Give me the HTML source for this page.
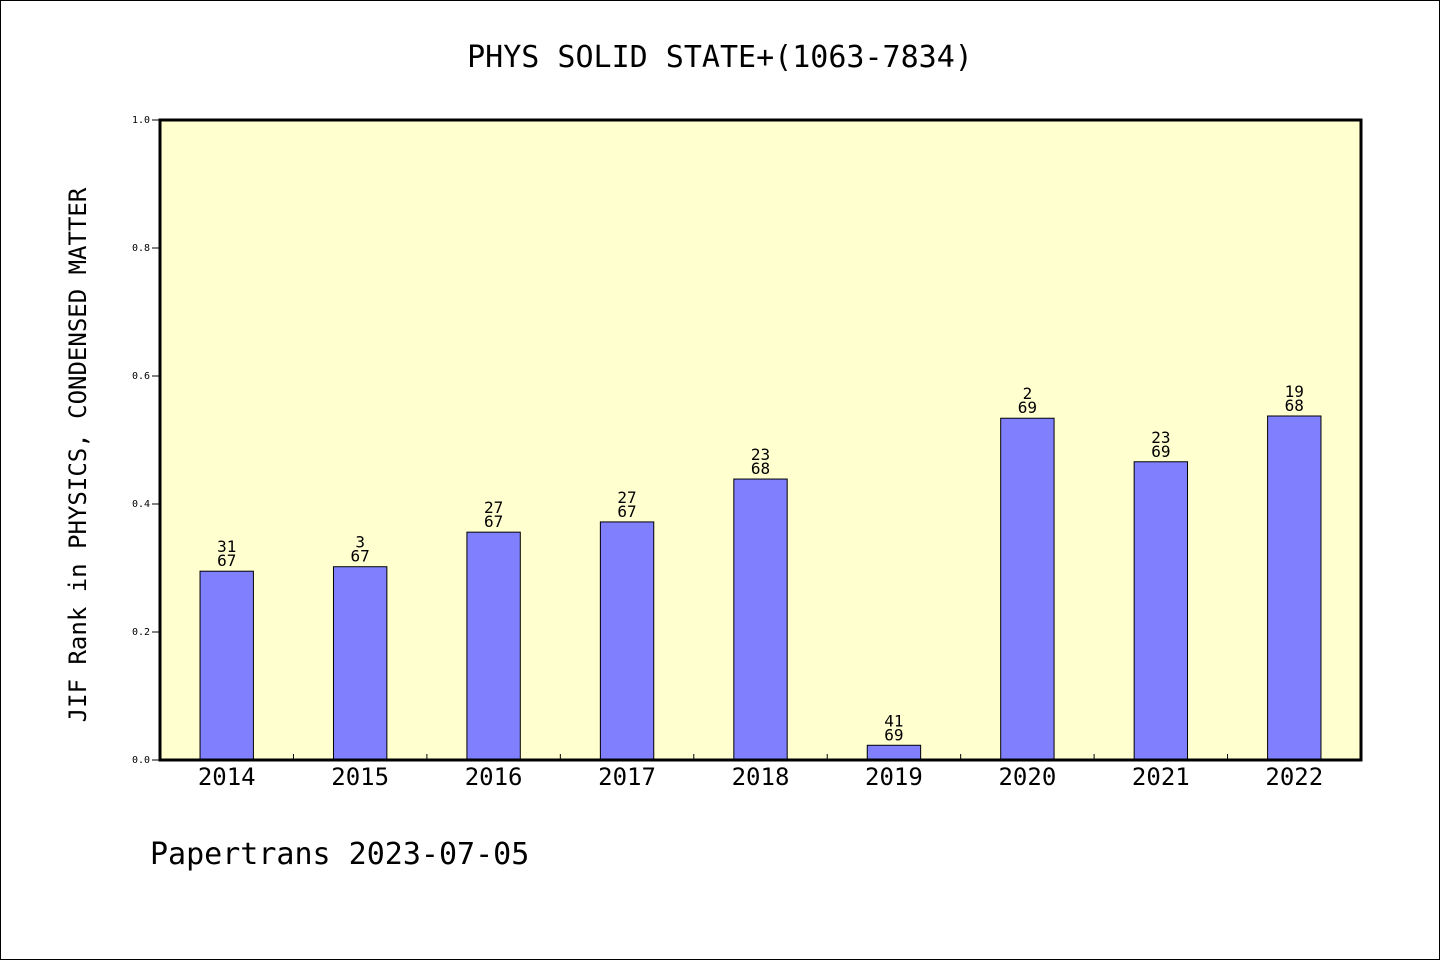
<!DOCTYPE html>
<html><head><meta charset="utf-8"><style>
body{margin:0;background:#fff}
svg{display:block;font-family:"DejaVu Sans Mono","Liberation Mono",monospace}
</style></head><body>
<svg id="c" width="1440" height="960" viewBox="0 0 1440 960">
<rect x="0.5" y="0.5" width="1439" height="959" fill="#fff" stroke="#000"/>
<text x="720" y="67" text-anchor="middle" font-size="30">PHYS SOLID STATE+(1063-7834)</text>
<rect x="160" y="120" width="1201" height="640" fill="#ffffd0"/>
<g id="bars"></g>
<rect x="160" y="120" width="1201" height="640" fill="none" stroke="#000" stroke-width="3"/>
<text transform="translate(86,455) rotate(-90)" text-anchor="middle" font-size="24">JIF Rank in PHYSICS, CONDENSED MATTER</text>
<text x="150" y="864" font-size="30">Papertrans 2023-07-05</text>
</svg>
<script>
const categories=["2014","2015","2016","2017","2018","2019","2020","2021","2022"];
const values=[0.295,0.302,0.356,0.372,0.439,0.023,0.534,0.466,0.5375];
const ranks=["31","3","27","27","23","41","2","23","19"];
const totals=["67","67","67","67","68","69","69","69","68"];
const yTicks=["0.0","0.2","0.4","0.6","0.8","1.0"];
const X0=160,X1=1361,Y0=760,Y1=120;
const band=(X1-X0)/categories.length;
const y=v=>Y0-(v)*(Y0-Y1);
const xc=i=>X0+band*(i+0.5);
const NS="http://www.w3.org/2000/svg";
const svg=document.getElementById('c');
const g=document.getElementById('bars');
function mk(t,a,p){const e=document.createElementNS(NS,t);for(const k in a)e.setAttribute(k,a[k]);(p||svg).appendChild(e);return e;}
categories.forEach((c,i)=>{
 const w=band*0.4;
 const b=mk('rect',{x:xc(i)-w/2,y:y(values[i]),width:w,height:Y0-y(values[i]),fill:'#8080ff',stroke:'#000','stroke-width':1},g);
 
 
 const t1=mk('text',{x:xc(i),y:y(values[i])-19,'text-anchor':'middle','font-size':16},g);
 t1.textContent=ranks[i];
 
 
 const t2=mk('text',{x:xc(i),y:y(values[i])-5,'text-anchor':'middle','font-size':16},g);
 t2.textContent=totals[i];
 
 
 const xl=mk('text',{x:xc(i),y:785,'text-anchor':'middle','font-size':24});
 xl.textContent=c;
 
 
 if(i>0){const tk=mk('line',{x1:X0+band*i,x2:X0+band*i,y1:Y0,y2:Y0-6,stroke:'#000'});
 
 }
});
yTicks.forEach(s=>{
 const v=parseFloat(s);
 const tk=mk('line',{x1:152,x2:160,y1:y(v),y2:y(v),stroke:'#000'});
 
 
 const tl=mk('text',{x:150,y:y(v)+3,'text-anchor':'end','font-size':10});
 tl.textContent=s;
 
 
});
</script>
</body></html>
